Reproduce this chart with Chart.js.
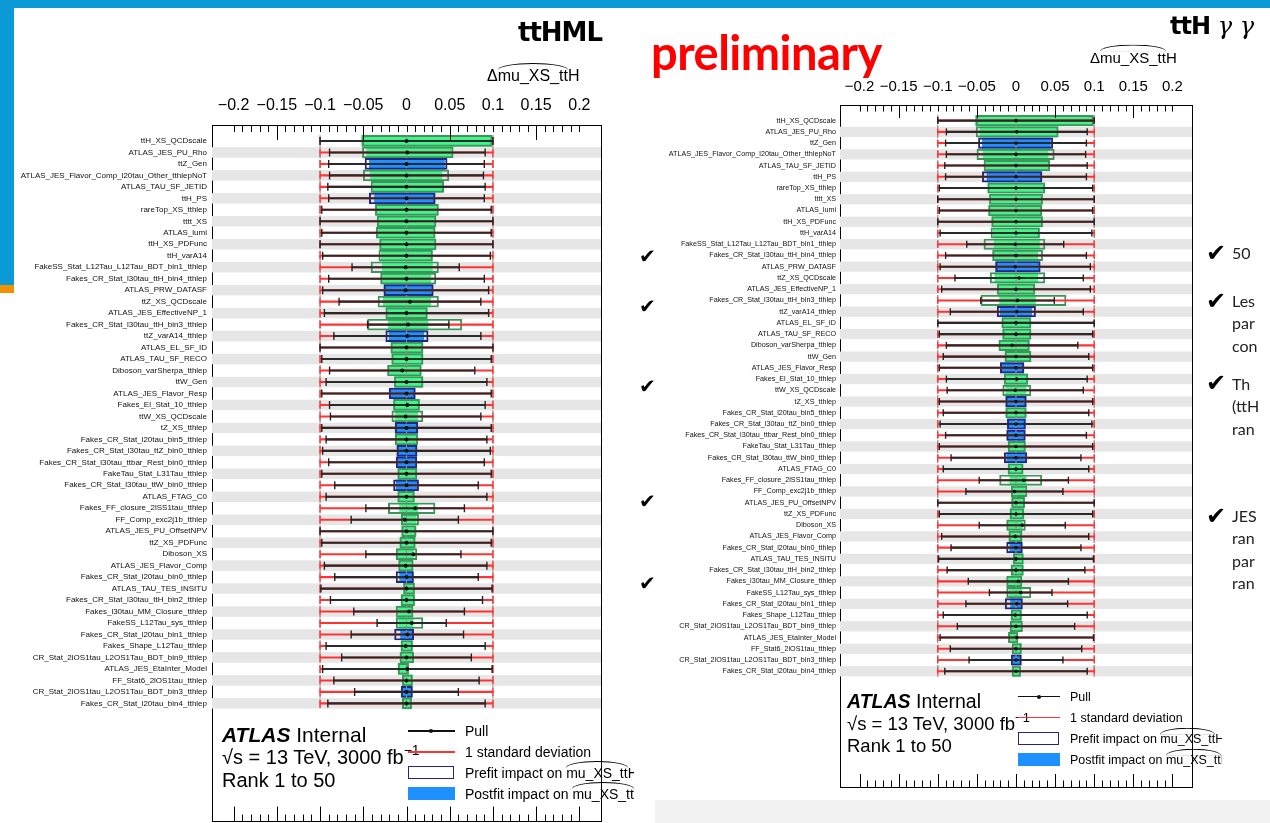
<!DOCTYPE html>
<html>
<head>
<meta charset="utf-8">
<script src="https://cdn.jsdelivr.net/npm/chart.js@4.4.1/dist/chart.umd.min.js"></script>
<style>
body{margin:0;width:1270px;height:823px;overflow:hidden;background:#fff;position:relative;font-family:"Liberation Sans",Arial,sans-serif;color:#000;}
.t{position:absolute;white-space:nowrap;transform:translateY(-50%);line-height:1;}
.hat{position:relative;}
.hat::before{content:"";position:absolute;left:0;right:0;top:-4px;height:6px;border-top:1px solid #000;border-radius:50% 50% 0 0/100% 100% 0 0;}
.box{position:absolute;}
#leftPanel{position:absolute;left:0;top:0;width:634px;height:823px;overflow:hidden;}
#rightPanel{position:absolute;left:640px;top:0;width:582px;height:823px;overflow:hidden;}
canvas{position:absolute;left:0;top:0;}
.chk{position:absolute;font-family:"DejaVu Sans";transform:translateY(-50%);line-height:1;}
.side{position:absolute;font-family:Lato,sans-serif;font-size:16px;color:#222;transform:translateY(-50%);line-height:1;white-space:nowrap;}
</style>
</head>
<body>
<div class="box" style="left:655px;top:800px;width:615px;height:23px;background:#f2f2f2"></div>

<div id="leftPanel">
  <canvas id="cL" width="640" height="827"></canvas>
  <div class="t" style="left:518px;top:32px;font-family:'DejaVu Sans';font-weight:bold;font-size:26px;letter-spacing:-1px">ttHML</div>
  <div class="t" style="left:487px;top:76px;font-size:16px">Δ<span class="hat">mu_XS_tt</span>H</div>
  <div class="t" style="left:222px;top:734px;font-size:21px"><b><i>ATLAS</i></b> Internal</div>
  <div class="t" style="left:222px;top:757px;font-size:20px">√s = 13 TeV, 3000 fb<span style="position:relative;top:-9px;font-size:14px">−1</span></div>
  <div class="t" style="left:222px;top:780px;font-size:20px">Rank 1 to 50</div>
  <div class="box" style="left:408px;top:730px;width:47px;height:1.5px;background:#111"></div>
  <div class="box" style="left:429px;top:729px;width:4px;height:4px;border-radius:2px;background:#111"></div>
  <div class="box" style="left:408px;top:751px;width:47px;height:1.5px;background:#ff3333"></div>
  <div class="box" style="left:408px;top:766px;width:44px;height:11px;border:1.5px solid #262680"></div>
  <div class="box" style="left:408px;top:787px;width:47px;height:13px;background:#1e90ff"></div>
  <div class="t" style="left:465px;top:731px;font-size:14px">Pull</div>
  <div class="t" style="left:465px;top:752px;font-size:14px">1 standard deviation</div>
  <div class="t" style="left:465px;top:773px;font-size:14px">Prefit impact on <span class="hat">mu_XS_tt</span>H</div>
  <div class="t" style="left:465px;top:794px;font-size:14px">Postfit impact on <span class="hat">mu_XS_tt</span>H</div>
</div>

<div id="rightPanel">
  <canvas id="cR" width="630" height="823"></canvas>
  <div class="t" style="left:450px;top:57px;font-size:15px">Δ<span class="hat">mu_XS_tt</span>H</div>
  <div class="t" style="left:207px;top:702px;font-size:19.5px"><b><i>ATLAS</i></b> Internal</div>
  <div class="t" style="left:207px;top:724px;font-size:18.5px">√s = 13 TeV, 3000 fb<span style="position:relative;top:-8px;font-size:13px">−1</span></div>
  <div class="t" style="left:207px;top:746px;font-size:18.5px">Rank 1 to 50</div>
  <div class="box" style="left:378px;top:696px;width:42px;height:1.4px;background:#111"></div>
  <div class="box" style="left:397px;top:695px;width:4px;height:4px;border-radius:2px;background:#111"></div>
  <div class="box" style="left:378px;top:717px;width:42px;height:1.4px;background:#ff3333"></div>
  <div class="box" style="left:378px;top:732px;width:39px;height:11px;border:1.5px solid #262680"></div>
  <div class="box" style="left:378px;top:753px;width:42px;height:13px;background:#1e90ff"></div>
  <div class="t" style="left:430px;top:697px;font-size:12.5px">Pull</div>
  <div class="t" style="left:430px;top:718px;font-size:12.5px">1 standard deviation</div>
  <div class="t" style="left:430px;top:739px;font-size:12.5px">Prefit impact on <span class="hat">mu_XS_tt</span>H</div>
  <div class="t" style="left:430px;top:760px;font-size:12.5px">Postfit impact on <span class="hat">mu_XS_tt</span>H</div>
</div>

<div class="t" style="left:651px;top:52px;font-family:Lato,sans-serif;font-weight:bold;font-size:47px;color:#ff0000;letter-spacing:-0.5px">preliminary</div>
<div class="t" style="left:1170px;top:26px;font-size:24px"><span style="font-family:'DejaVu Sans';font-weight:bold;letter-spacing:-1px">ttH</span><span style="font-family:'DejaVu Serif';font-style:italic"> γ γ</span></div>

<div class="chk" style="left:639px;top:256px;font-size:20px">✔</div>
<div class="chk" style="left:639px;top:306px;font-size:20px">✔</div>
<div class="chk" style="left:639px;top:386px;font-size:20px">✔</div>
<div class="chk" style="left:639px;top:501px;font-size:20px">✔</div>
<div class="chk" style="left:639px;top:583px;font-size:20px">✔</div>

<div class="chk" style="left:1206px;top:253px;font-size:24px">✔</div>
<div class="chk" style="left:1206px;top:301px;font-size:24px">✔</div>
<div class="chk" style="left:1206px;top:383px;font-size:24px">✔</div>
<div class="chk" style="left:1206px;top:516px;font-size:24px">✔</div>
<div class="side" style="left:1232px;top:253px">50</div>
<div class="side" style="left:1232px;top:301px">Les</div>
<div class="side" style="left:1232px;top:323px">par</div>
<div class="side" style="left:1232px;top:346px">con</div>
<div class="side" style="left:1232px;top:384px">Th</div>
<div class="side" style="left:1232px;top:406px">(ttH</div>
<div class="side" style="left:1232px;top:429px">ran</div>
<div class="side" style="left:1232px;top:516px">JES</div>
<div class="side" style="left:1232px;top:538px">ran</div>
<div class="side" style="left:1232px;top:561px">par</div>
<div class="side" style="left:1232px;top:583px">ran</div>

<div class="box" style="left:0;top:0;width:1270px;height:8px;background:#0b9ad6"></div>
<div class="box" style="left:0;top:0;width:14px;height:285px;background:#0b9ad6"></div>
<div class="box" style="left:0;top:285px;width:14px;height:8px;background:#f39200"></div>

<script>
const labels = [
  'ttH_XS_QCDscale', 'ATLAS_JES_PU_Rho', 'ttZ_Gen', 'ATLAS_JES_Flavor_Comp_l20tau_Other_tthlepNoT',
  'ATLAS_TAU_SF_JETID', 'ttH_PS', 'rareTop_XS_tthlep', 'tttt_XS', 'ATLAS_lumi', 'ttH_XS_PDFunc',
  'ttH_varA14', 'FakeSS_Stat_L12Tau_L12Tau_BDT_bin1_tthlep', 'Fakes_CR_Stat_l30tau_ttH_bin4_tthlep',
  'ATLAS_PRW_DATASF', 'ttZ_XS_QCDscale', 'ATLAS_JES_EffectiveNP_1', 'Fakes_CR_Stat_l30tau_ttH_bin3_tthlep',
  'ttZ_varA14_tthlep', 'ATLAS_EL_SF_ID', 'ATLAS_TAU_SF_RECO', 'Diboson_varSherpa_tthlep', 'ttW_Gen',
  'ATLAS_JES_Flavor_Resp', 'Fakes_El_Stat_10_tthlep', 'ttW_XS_QCDscale', 'tZ_XS_tthlep',
  'Fakes_CR_Stat_l20tau_bin5_tthlep', 'Fakes_CR_Stat_l30tau_ttZ_bin0_tthlep',
  'Fakes_CR_Stat_l30tau_ttbar_Rest_bin0_tthlep', 'FakeTau_Stat_L31Tau_tthlep',
  'Fakes_CR_Stat_l30tau_ttW_bin0_tthlep', 'ATLAS_FTAG_C0', 'Fakes_FF_closure_2lSS1tau_tthlep',
  'FF_Comp_exc2j1b_tthlep', 'ATLAS_JES_PU_OffsetNPV', 'ttZ_XS_PDFunc', 'Diboson_XS', 'ATLAS_JES_Flavor_Comp',
  'Fakes_CR_Stat_l20tau_bin0_tthlep', 'ATLAS_TAU_TES_INSITU', 'Fakes_CR_Stat_l30tau_ttH_bin2_tthlep',
  'Fakes_l30tau_MM_Closure_tthlep', 'FakeSS_L12Tau_sys_tthlep', 'Fakes_CR_Stat_l20tau_bin1_tthlep',
  'Fakes_Shape_L12Tau_tthlep', 'CR_Stat_2lOS1tau_L2OS1Tau_BDT_bin9_tthlep', 'ATLAS_JES_EtaInter_Model',
  'FF_Stat6_2lOS1tau_tthlep', 'CR_Stat_2lOS1tau_L2OS1Tau_BDT_bin3_tthlep', 'Fakes_CR_Stat_l20tau_bin4_tthlep'
];

// postfit impact on mu (down / up edge)
const postLo = [-0.052, -0.046, -0.043, -0.042, -0.039, -0.037, -0.036, -0.033, -0.035, -0.031,
  -0.029, -0.028, -0.028, -0.026, -0.027, -0.023, -0.021, -0.020, -0.018, -0.017,
  -0.020, -0.014, -0.020, -0.015, -0.013, -0.013, -0.013, -0.011, -0.011, -0.010,
  -0.012, -0.010, -0.008, -0.0055, -0.0055, -0.0076, -0.011, -0.009, -0.008, -0.0034,
  -0.0062, -0.0097, -0.009, -0.0069, -0.0062, -0.0062, -0.0097, -0.0048, -0.0048, -0.0048];
const postHi = [0.099, 0.053, 0.044, 0.041, 0.042, 0.033, 0.036, 0.034, 0.033, 0.034,
  0.030, 0.030, 0.028, 0.030, 0.028, 0.024, 0.025, 0.020, 0.019, 0.019,
  0.017, 0.019, 0.010, 0.015, 0.013, 0.013, 0.013, 0.012, 0.011, 0.012,
  0.013, 0.009, 0.013, 0.011, 0.011, 0.010, 0.008, 0.0076, 0.008, 0.0093,
  0.0093, 0.0069, 0.0076, 0.0069, 0.0069, 0.0069, 0.0024, 0.0069, 0.0062, 0.0059];
// prefit impact on mu
const preLo = [-0.051, -0.051, -0.048, -0.050, -0.041, -0.043, -0.036, -0.034, -0.035, -0.031,
  -0.032, -0.041, -0.030, -0.026, -0.033, -0.024, -0.045, -0.024, -0.018, -0.017,
  -0.022, -0.014, -0.020, -0.015, -0.017, -0.013, -0.013, -0.011, -0.012, -0.010,
  -0.015, -0.010, -0.021, -0.006, -0.0055, -0.0076, -0.012, -0.009, -0.012, -0.0034,
  -0.0062, -0.012, -0.012, -0.0138, -0.0062, -0.0076, -0.0097, -0.0048, -0.0062, -0.0048];
const preHi = [0.099, 0.054, 0.047, 0.049, 0.043, 0.033, 0.037, 0.034, 0.033, 0.034,
  0.030, 0.037, 0.034, 0.031, 0.037, 0.024, 0.064, 0.025, 0.019, 0.019,
  0.017, 0.019, 0.010, 0.015, 0.019, 0.013, 0.013, 0.012, 0.012, 0.012,
  0.014, 0.009, 0.033, 0.014, 0.011, 0.010, 0.012, 0.0076, 0.008, 0.0093,
  0.0093, 0.0076, 0.019, 0.0083, 0.0069, 0.0083, 0.0024, 0.0069, 0.0069, 0.0059];
// +1 when the up variation raises mu (blue), -1 otherwise (green)
const impactSign = [-1, -1, 1, -1, -1, 1, -1, -1, -1, -1,
  -1, -1, -1, 1, -1, -1, -1, 1, -1, -1,
  -1, -1, 1, -1, -1, 1, -1, 1, 1, -1,
  1, -1, -1, -1, -1, -1, -1, -1, 1, -1,
  -1, -1, -1, 1, -1, -1, -1, -1, 1, -1];
// nuisance parameter pulls and postfit constraints
const pull = [0, 0.01, 0, 0, 0, 0, 0, 0, 0, 0,
  0, -0.01, 0, -0.01, 0.04, 0, 0.02, 0.01, 0, 0,
  -0.05, 0, 0, 0.01, -0.01, 0, 0, 0, 0, 0,
  0, 0, 0.10, -0.02, 0, 0, 0.08, -0.01, 0, 0,
  0, 0.03, 0.06, 0.01, -0.01, 0, 0.01, 0, 0, 0];
const pullErr = [1.0, 0.90, 0.90, 0.89, 0.91, 0.90, 0.98, 1.0, 0.98, 1.0,
  0.97, 0.62, 0.90, 0.96, 0.82, 0.95, 0.47, 0.85, 1.0, 0.98,
  0.84, 0.93, 0.98, 0.90, 0.87, 0.98, 0.93, 0.97, 0.90, 0.98,
  0.83, 0.93, 0.57, 0.62, 1.0, 0.98, 0.55, 0.94, 0.83, 0.99,
  0.88, 0.64, 0.40, 0.65, 0.92, 0.75, 0.98, 0.84, 0.60, 0.91];

const impactTickValues = [-0.2, -0.15, -0.1, -0.05, 0, 0.05, 0.1, 0.15, 0.2];
const impactTickLabels = ['\u22120.2', '\u22120.15', '\u22120.1', '\u22120.05', '0', '0.05', '0.1', '0.15', '0.2'];

const GREEN = '#42f58a', BLUE = '#1e90ff', GREEN_EDGE = '#3c965a', NAVY = '#262680', RED = '#ff3333';

const rankingDecor = {
  id: 'rankingDecor',
  beforeDatasetsDraw(chart) {
    const {ctx, chartArea: a, scales: {y}} = chart;
    ctx.save();
    ctx.fillStyle = '#e6e6e6';
    labels.forEach((_, i) => {
      if (i % 2 === 1) {
        const t = y.getPixelForValue(i - 0.5), b = y.getPixelForValue(i + 0.5);
        ctx.fillRect(a.left, Math.min(t, b) + 0.5, a.right - a.left, Math.abs(b - t) - 1);
      }
    });
    ctx.restore();
  },
  afterDatasetDraw(chart, args) {
    if (!chart.data.datasets[args.index].decorAfter) return;
    const {ctx, scales: {xp, y}} = chart;
    ctx.save();
    ctx.strokeStyle = '#8c8c8c';
    ctx.lineWidth = 1.2;
    ctx.setLineDash([3, 2]);
    [-1, 0, 1].forEach(v => {
      const x = xp.getPixelForValue(v);
      ctx.beginPath();
      ctx.moveTo(x, y.getPixelForValue(-0.5));
      ctx.lineTo(x, y.getPixelForValue(labels.length - 0.5));
      ctx.stroke();
    });
    ctx.restore();
  },
  afterDraw(chart, args, o) {
    const {ctx, chartArea: a, scales: {xi, xp}} = chart;
    ctx.save();
    ctx.strokeStyle = '#000';
    ctx.lineWidth = 1;
    ctx.beginPath();
    // ROOT style ticks pointing into the frame
    for (let k = -20; k <= 20; k++) {
      const x = Math.round(xi.getPixelForValue(k / 100)) + 0.5;
      ctx.moveTo(x, a.top);
      ctx.lineTo(x, a.top + (Math.abs(k) % 10 === 5 ? o.longTick : o.shortTick));
    }
    for (let k = -20; k <= 20; k++) {
      const x = Math.round(xp.getPixelForValue(k / 10)) + 0.5;
      ctx.moveTo(x, a.bottom);
      ctx.lineTo(x, a.bottom - (k % 5 === 0 ? o.longTick : o.shortTick));
    }
    ctx.moveTo(Math.round(a.right) + 0.5, a.top);
    ctx.lineTo(Math.round(a.right) + 0.5, a.bottom);
    ctx.stroke();
    ctx.restore();
  }
};

function noPadding(sc) {
  sc.paddingLeft = 0; sc.paddingRight = 0; sc.paddingTop = 0; sc.paddingBottom = 0;
}

function makeRanking(id, s) {
  const rows = labels.map((_, i) => i);
  const thin = {type: 'bar', indexAxis: 'y', grouped: false, categoryPercentage: 1, barPercentage: 1, yAxisID: 'y'};
  return new Chart(document.getElementById(id), {
    type: 'bar',
    data: {
      datasets: [
        {type: 'scatter', order: 0, xAxisID: 'xp', yAxisID: 'y',
          data: rows.map(i => ({x: pull[i], y: i})),
          pointStyle: 'circle', pointRadius: s.dot, backgroundColor: '#111', borderWidth: 0},
        {type: 'scatter', order: 1, xAxisID: 'xp', yAxisID: 'y',
          data: rows.flatMap(i => [{x: pull[i] - pullErr[i], y: i}, {x: pull[i] + pullErr[i], y: i}]),
          pointStyle: 'line', rotation: 90, pointRadius: s.cap, borderColor: '#222', borderWidth: 1.4},
        Object.assign({order: 2, xAxisID: 'xp', maxBarThickness: 1.4, backgroundColor: '#2a2a2a',
          data: rows.map(i => ({x: [pull[i] - pullErr[i], pull[i] + pullErr[i]], y: i}))}, thin),
        {type: 'scatter', order: 3, xAxisID: 'xp', yAxisID: 'y',
          data: rows.flatMap(i => [{x: -1, y: i}, {x: 1, y: i}]),
          pointStyle: 'line', rotation: 90, pointRadius: s.cap, borderColor: RED, borderWidth: 1.4},
        Object.assign({order: 4, xAxisID: 'xp', maxBarThickness: 1.4, backgroundColor: RED,
          data: rows.map(i => ({x: [-1, 1], y: i}))}, thin),
        Object.assign({order: 5, xAxisID: 'xi', decorAfter: true, maxBarThickness: s.preH,
          backgroundColor: 'rgba(0,0,0,0)', borderWidth: 1.3, borderSkipped: false,
          borderColor: rows.map(i => impactSign[i] > 0 ? NAVY : GREEN_EDGE),
          data: rows.map(i => ({x: [preLo[i], preHi[i]], y: i}))}, thin),
        Object.assign({order: 6, xAxisID: 'xi', maxBarThickness: s.postH, borderWidth: 0,
          backgroundColor: rows.map(i => impactSign[i] > 0 ? BLUE : GREEN),
          data: rows.map(i => ({x: [postLo[i], postHi[i]], y: i}))}, thin)
      ]
    },
    options: {
      responsive: false,
      animation: false,
      events: [],
      layout: {padding: {left: 0, right: s.padR, top: 0, bottom: s.padB}},
      plugins: {
        legend: {display: false},
        tooltip: {enabled: false},
        rankingDecor: {shortTick: s.shortTick, longTick: s.longTick}
      },
      scales: {
        y: {
          type: 'linear', axis: 'y', reverse: true, min: -1.39, max: 59.3, offset: false,
          grid: {display: false, drawTicks: false, offset: false},
          border: {display: true, color: '#000', width: 1},
          afterBuildTicks: sc => { sc.ticks = labels.map((_, i) => ({value: i})); },
          ticks: {autoSkip: false, padding: s.yPad, color: '#111', font: {size: s.yFont},
            callback: v => labels[v]},
          afterFit: sc => { sc.width = s.yw; noPadding(sc); }
        },
        xi: {
          type: 'linear', axis: 'x', position: 'top', min: -0.2, max: 0.2,
          grid: {display: false, drawTicks: false},
          border: {display: true, color: '#000', width: 1},
          afterBuildTicks: sc => { sc.ticks = impactTickValues.map(v => ({value: v})); },
          ticks: {autoSkip: false, maxRotation: 0, minRotation: 0, padding: s.topPad, color: '#000',
            font: {size: s.topFont}, callback: (v, i) => impactTickLabels[i]},
          afterFit: sc => { sc.height = s.top; noPadding(sc); }
        },
        xp: {
          type: 'linear', axis: 'x', position: 'bottom', min: -2, max: 2,
          grid: {display: false, drawTicks: false},
          border: {display: true, color: '#000', width: 1},
          ticks: {display: false},
          afterFit: sc => { sc.height = 0; noPadding(sc); }
        }
      }
    },
    plugins: [rankingDecor]
  });
}

Chart.defaults.font.family = '"Liberation Sans", Arial, sans-serif';

makeRanking('cL', {yw: 212, padR: 39, top: 125, padB: 0, yFont: 8, yPad: 5, topFont: 16, topPad: 10,
  dot: 2, cap: 4, preH: 11, postH: 10.5, shortTick: 7, longTick: 15});
makeRanking('cR', {yw: 200, padR: 78, top: 105, padB: 36, yFont: 7.2, yPad: 4, topFont: 15, topPad: 9,
  dot: 1.8, cap: 3.5, preH: 10.5, postH: 10, shortTick: 6.5, longTick: 13});
</script>
</body>
</html>
